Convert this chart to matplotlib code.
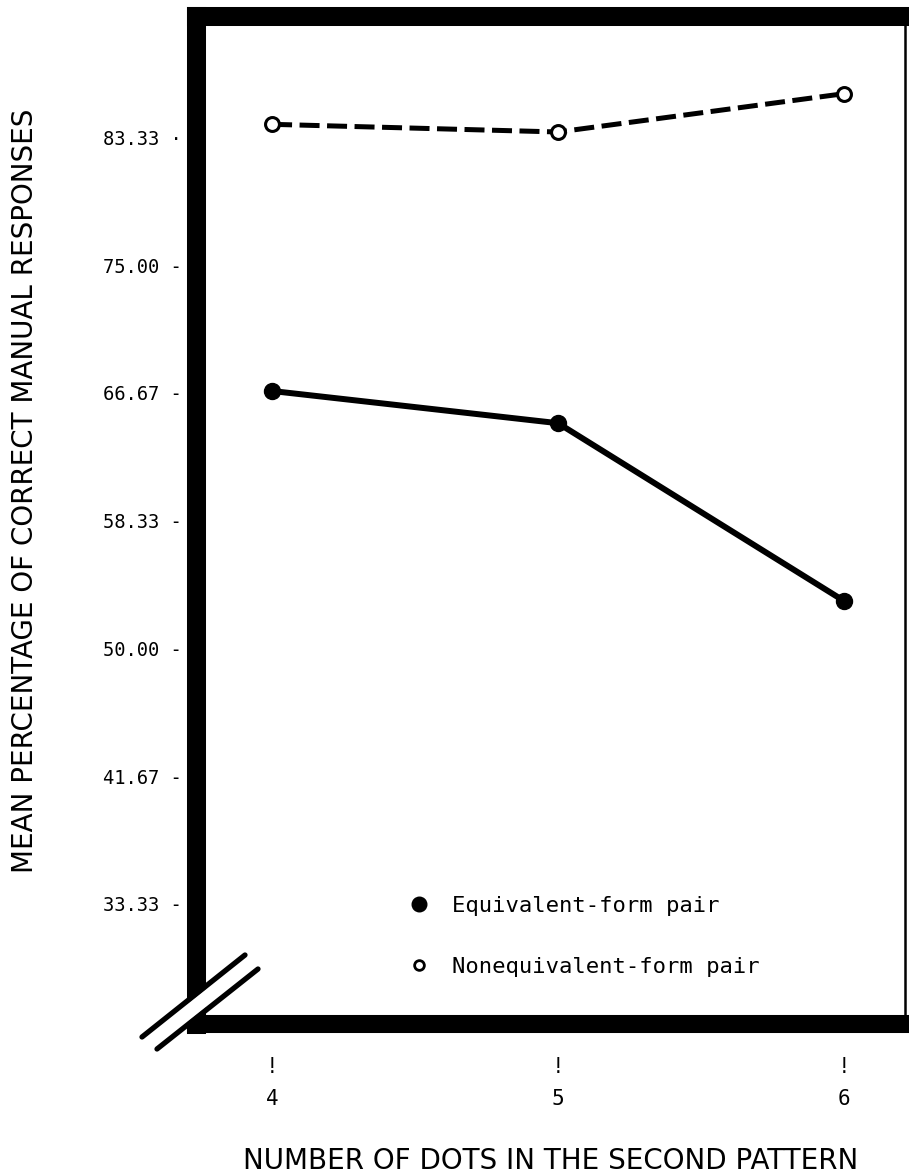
import matplotlib
matplotlib.use('Agg')
import matplotlib.pyplot as plt
from matplotlib.lines import Line2D

# число точек во втором образце
dots = [4, 5, 6]
# средний процент правильных ответов
equiv = [66.8, 64.7, 53.1]
nonequiv = [84.2, 83.7, 86.2]

ytick_vals = [33.33, 41.67, 50.00, 58.33, 66.67, 75.00, 83.33]
ytick_labels = ['33.33 -', '41.67 -', '50.00 -', '58.33 -', '66.67 -', '75.00 -', '83.33 ·']
xtick_labels = ['!\n4', '!\n5', '!\n6']

plt.rcParams['font.family'] = ['DejaVu Sans Mono']

W, H = 909, 1174
fig = plt.figure(figsize=(W / 100, H / 100), dpi=100)
ax = fig.add_axes([196 / W, 1 - 1024 / H, (905 - 196) / W, (1024 - 15.5) / H])

ax.plot(dots, nonequiv, color='black', linewidth=3.6, linestyle=(0, (4, 1.5)),
        marker='o', markersize=10, markerfacecolor='white', markeredgewidth=2.2,
        markeredgecolor='black', zorder=3)
ax.plot(dots, equiv, color='black', linewidth=4.3, marker='o', markersize=11.5,
        markerfacecolor='black', zorder=3)

ax.set_xlim(3.734, 6.213)
ax.set_ylim(25.5, 91.3)

ax.set_yticks(ytick_vals, ytick_labels)
ax.set_xticks(dots, xtick_labels)
ax.tick_params(axis='y', length=0, pad=10, labelsize=13.5)
ax.tick_params(axis='x', length=0, pad=24, labelsize=15)
for lab in ax.get_xticklabels():
    lab.set_linespacing(1.75)

# толстая рамка слева, сверху и снизу, тонкая справа
ax.spines['left'].set_linewidth(13.7)
ax.spines['top'].set_linewidth(13.7)
ax.spines['bottom'].set_linewidth(13)
ax.spines['right'].set_linewidth(1.8)

ax.set_xlabel('NUMBER OF DOTS IN THE SECOND PATTERN', fontsize=20,
              family='DejaVu Sans', labelpad=27)
ax.set_ylabel('MEAN PERCENTAGE OF CORRECT MANUAL RESPONSES', fontsize=20,
              family='DejaVu Sans')
ax.yaxis.set_label_coords(-0.222, 0.529)

handles = [Line2D([], [], color='black', marker='o', linestyle='none', markersize=10.5),
           Line2D([], [], color='black', marker='o', linestyle='none', markersize=7,
                  markerfacecolor='white', markeredgewidth=2)]
ax.legend(handles, ['Equivalent-form pair', 'Nonequivalent-form pair'],
          loc='upper left', bbox_to_anchor=(0.27, 0.147), frameon=False,
          fontsize=16, labelspacing=1.85, handletextpad=1.0, handlelength=1)

# разрыв оси в левом нижнем углу
def px(x, y):
    return x / W, 1 - y / H

(x0, y0), (x1, y1) = px(147, 1045), px(254, 960)
fig.add_artist(Line2D([x0, x1], [y0, y1], color='white', linewidth=10.5,
                      solid_capstyle='butt', zorder=5))
for (a, b), (c, d) in [((142, 1037), (245, 955)), ((157, 1049), (258, 969))]:
    (ax_, ay_), (bx_, by_) = px(a, b), px(c, d)
    fig.add_artist(Line2D([ax_, bx_], [ay_, by_], color='black', linewidth=3.8,
                          solid_capstyle='round', zorder=6))

fig.savefig('out.png', dpi=100)
